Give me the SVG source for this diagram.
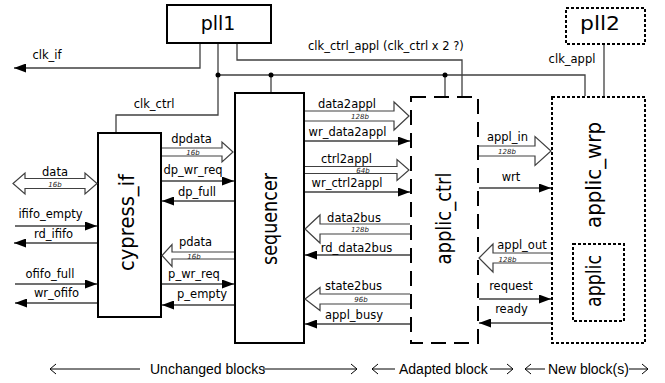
<svg xmlns="http://www.w3.org/2000/svg" width="665" height="383" viewBox="0 0 665 383">
<style>
.box{fill:#fff;stroke:#000;stroke-width:2}
.dash{fill:none;stroke:#000;stroke-width:2;stroke-dasharray:15 8}
.dot{fill:none;stroke:#000;stroke-width:2;stroke-dasharray:3 2}
.w{fill:none;stroke:#404040;stroke-width:1.3}
.sig{fill:none;stroke:#404040;stroke-width:1.3;marker-end:url(#ah)}
.bus{fill:#fff;stroke:#404040;stroke-width:1.2}
.lbl{font-family:"DejaVu Sans",sans-serif;font-size:11.5px;fill:#000;text-anchor:middle}
.bw{font-family:"DejaVu Sans",sans-serif;font-size:7px;font-style:italic;fill:#222;text-anchor:middle}
.big{font-family:"DejaVu Sans",sans-serif;font-size:22px;fill:#000;text-anchor:middle}
.leg{font-family:"Liberation Sans",Arial,sans-serif;font-size:14px;fill:#000}
.lg{fill:none;stroke:#000;stroke-width:1}
</style>
<defs>
<marker id="ah" markerWidth="12" markerHeight="9" refX="12" refY="4.5" orient="auto" markerUnits="userSpaceOnUse"><path d="M0,0 L12,4.5 L0,9 z" fill="#000"/></marker>
</defs>

<g id="pll1"><rect class="box" x="167" y="5" width="104" height="38"/><text class="big" x="218" y="30" style="font-size:19px">pll1</text></g>
<g id="pll2"><rect class="dot" x="566" y="8" width="79" height="36"/><text class="big" x="600" y="30" style="font-size:19px" textLength="40" lengthAdjust="spacingAndGlyphs">pll2</text></g>
<g id="cypress_if"><rect class="box" x="98" y="133" width="63" height="184"/><text class="big" transform="translate(134,222.5) rotate(-90)" textLength="97" lengthAdjust="spacingAndGlyphs">cypress_if</text></g>
<g id="sequencer"><rect class="box" x="235" y="93" width="69" height="250"/><text class="big" transform="translate(277,219) rotate(-90)" textLength="92" lengthAdjust="spacingAndGlyphs">sequencer</text></g>
<g id="applic_ctrl"><rect class="dash" x="411" y="97" width="67" height="246"/><text class="big" transform="translate(451,218.5) rotate(-90)" textLength="92" lengthAdjust="spacingAndGlyphs">applic_ctrl</text></g>
<g id="applic_wrp"><rect class="dot" x="552" y="97" width="93" height="246"/><text class="big" transform="translate(601,175) rotate(-90)" textLength="106" lengthAdjust="spacingAndGlyphs">applic_wrp</text></g>
<g id="applic"><rect class="dot" x="573" y="244" width="51" height="77"/><text class="big" transform="translate(601,281) rotate(-90)" textLength="52" lengthAdjust="spacingAndGlyphs">applic</text></g>

<g id="connectors">
<path class="w" d="M218,44 V115 H116 V132"/>
<path class="w" d="M218,75 H585 V96"/>
<path class="w" d="M271,75 V92"/>
<path class="w" d="M445,75 V96"/>
<path class="w" d="M237,44 V60 H462 V96"/>
<path class="w" d="M604,45 V96"/>
<circle cx="218" cy="75" r="2.5" fill="#000"/>
<circle cx="271" cy="75" r="2.5" fill="#000"/>
<circle cx="445" cy="75" r="2.5" fill="#000"/>
<path class="sig" d="M200,44 V68 H14"/>

<path class="bus" d="M25,178.5 H85 V173 L97,183.5 L85,194 V188.5 H25 V194 L13,183.5 L25,173 Z"/>
<path class="sig" d="M15,226 H97"/>
<path class="sig" d="M97,243 H14"/>
<path class="sig" d="M15,284 H97"/>
<path class="sig" d="M97,303 H15"/>

<path class="bus" d="M162,148 H222 V142 L233,152 L222,162 V156 H162"/>
<path class="sig" d="M162,181 H234"/>
<path class="sig" d="M234,201 H162"/>
<path class="bus" d="M234,252 H172 V244.5 L162,255.5 L172,266.5 V259 H234"/>
<path class="sig" d="M162,284 H234"/>
<path class="sig" d="M234,305 H162"/>

<path class="bus" d="M305,111 H394 V102 L409,116 L394,130 V121 H305"/>
<path class="sig" d="M305,141 H410"/>
<path class="bus" d="M305,166.5 H397 V159.5 L409,170 L397,180.5 V173.5 H305"/>
<path class="sig" d="M305,192 H410"/>
<path class="bus" d="M410,224 H320 V215 L305,229 L320,243 V234 H410"/>
<path class="sig" d="M410,255 H305"/>
<path class="bus" d="M410,294 H320 V287.5 L305,299 L320,310.5 V304 H410"/>
<path class="sig" d="M410,324 H305"/>

<path class="bus" d="M479,146 H535 V136.5 L551,151 L535,165.5 V156 H479"/>
<path class="sig" d="M479,188 H551"/>
<path class="bus" d="M551,253 H493 V244 L479,258 L493,272 V263 H551"/>
<path class="sig" d="M479,299 H551"/>
<path class="sig" d="M551,323 H479"/>

<text class="lbl" x="47" y="59">clk_if</text>
<text class="lbl" x="154" y="108">clk_ctrl</text>
<text class="lbl" x="308" y="50" style="text-anchor:start">clk_ctrl_appl (clk_ctrl x 2 ?)</text>
<text class="lbl" x="572" y="63">clk_appl</text>
<text class="lbl" x="55" y="176">data</text>
<text class="bw" x="55" y="186.5">16b</text>
<text class="lbl" x="50.5" y="218">ififo_empty</text>
<text class="lbl" x="53.5" y="238">rd_ififo</text>
<text class="lbl" x="50" y="278">ofifo_full</text>
<text class="lbl" x="56.5" y="297">wr_ofifo</text>
<text class="lbl" x="191.5" y="143">dpdata</text>
<text class="bw" x="193" y="154.5">16b</text>
<text class="lbl" x="193" y="174">dp_wr_req</text>
<text class="lbl" x="197" y="196">dp_full</text>
<text class="lbl" x="195.5" y="246">pdata</text>
<text class="bw" x="194" y="258.5">16b</text>
<text class="lbl" x="194" y="278">p_wr_req</text>
<text class="lbl" x="202" y="298">p_empty</text>
<text class="lbl" x="347" y="108">data2appl</text>
<text class="bw" x="360" y="118.5">128b</text>
<text class="lbl" x="347.5" y="136">wr_data2appl</text>
<text class="lbl" x="346.5" y="162.5">ctrl2appl</text>
<text class="bw" x="363" y="172.5">64b</text>
<text class="lbl" x="347" y="186.5">wr_ctrl2appl</text>
<text class="lbl" x="354" y="221.5">data2bus</text>
<text class="bw" x="360" y="231.5">128b</text>
<text class="lbl" x="356.5" y="252">rd_data2bus</text>
<text class="lbl" x="353.5" y="290">state2bus</text>
<text class="bw" x="361" y="301.5">96b</text>
<text class="lbl" x="354" y="319">appl_busy</text>
<text class="lbl" x="507.5" y="140.5">appl_in</text>
<text class="bw" x="507" y="153.5">128b</text>
<text class="lbl" x="511" y="180.5">wrt</text>
<text class="lbl" x="522" y="249">appl_out</text>
<text class="bw" x="507.5" y="261.5">128b</text>
<text class="lbl" x="511" y="290">request</text>
<text class="lbl" x="511.5" y="313">ready</text>
</g>

<g id="legend">
<path class="lg" d="M50,369 H140 M56,364 L50,369 L56,374"/>
<text class="leg" x="150" y="374">Unchanged blocks</text>
<path class="lg" d="M263,369 H357 M351,364 L357,369 L351,374"/>
<path class="lg" d="M372,369 H395 M378,364 L372,369 L378,374"/>
<text class="leg" x="399" y="374">Adapted block</text>
<path class="lg" d="M490,369 H513 M507,364 L513,369 L507,374"/>
<path class="lg" d="M525,369 H545 M531,364 L525,369 L531,374"/>
<text class="leg" x="548" y="374">New block(s)</text>
<path class="lg" d="M629,369 H648 M642,364 L648,369 L642,374"/>
</g>
</svg>
